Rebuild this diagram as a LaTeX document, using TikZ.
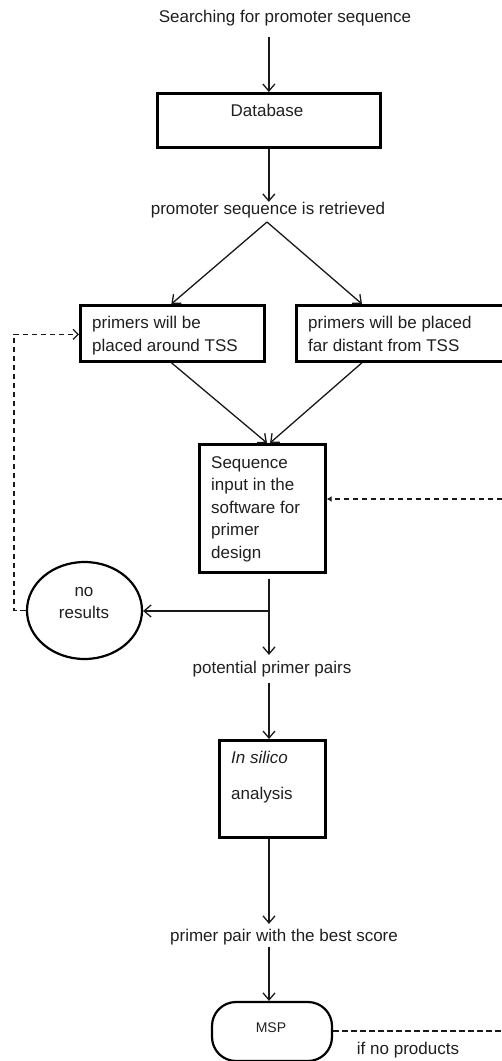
\documentclass[tikz,border=0pt]{standalone}
\usepackage{fontspec}
\setmainfont{Liberation Sans}
\usetikzlibrary{arrows.meta,shapes.geometric}
\begin{document}
\begin{tikzpicture}[x=1pt,y=-1pt,
  txt/.style={inner sep=0pt,text=black!88,font=\fontsize{17}{22.5}\selectfont},
  boxa/.style={draw=black,line width=2.7pt,anchor=north west,inner sep=0pt},
  conn/.style={line width=1.3pt,draw=black!90},
  arr/.style={conn,-{Straight Barb[length=7pt,width=12pt,line width=1.3pt]}},
  dsh/.style={conn,line width=1.5pt,dash pattern=on 5.5pt off 3.5pt}
]
\useasboundingbox (0,0) rectangle (502,1061);
\coordinate (col) at (269,0);
% title
\node[txt] (title) at (285,18) {Searching for promoter sequence};
% database
\node[boxa,minimum width=223pt,minimum height=54pt] (db) at (156,92) {};
\node[txt] (dbt) at (267,110) {Database};
\draw[arr,shorten <=11pt] (title.south -| db.north) -- (db.north);
% retrieved
\node[txt] (retr) at (268,210) {promoter sequence is retrieved};
\draw[arr] (db.south) -- (db.south |- retr.north);
\coordinate (apex) at (267,222);
% two boxes
\node[boxa,minimum width=184pt,minimum height=56pt] (lbox) at (79,304) {};
\node[txt,anchor=north west,align=left] (lt) at (92,316) {primers will be\\placed around TSS};
\node[boxa,minimum width=260pt,minimum height=56pt] (rbox) at (295,304) {};
\node[txt,anchor=north west,align=left] (rt) at (308,316) {primers will be placed\\far distant from TSS};
\draw[arr] (apex) -- ([xshift=-1pt]lbox.north);
\draw[arr] (apex) -- ([xshift=67pt]rbox.north west);
% sequence box
\node[boxa,minimum width=126pt,minimum height=128pt] (seq) at (198,443) {};
\node[txt,anchor=north west,align=left] (seqt) at (211,456) {Sequence\\input in the\\software for\\primer\\design};
\draw[arr] ([xshift=-1pt]lbox.south) -- ([xshift=69pt]seq.north west);
\draw[arr] ([xshift=67pt]rbox.south west) -- ([xshift=72pt]seq.north west);
% no results
\node[draw=black,line width=2.2pt,ellipse,minimum width=115pt,minimum height=97pt,inner sep=0pt] (nr) at (84.5,610.5) {};
\node[txt,align=center] (nrt) at (84,603) {no\\results};
% potential primer pairs
\node[txt] (pot) at (272,669) {potential primer pairs};
\coordinate (sb) at ([yshift=-5pt]col |- seq.south);
\draw[arr,shorten >=6pt] (sb) -- (col |- pot.north);
\coordinate (br) at (269,611);
\draw[arr] (br) -- (nr.east |- br);
% dashed back to left box
\coordinate (lx) at (14,0);
\draw[dsh,-{Straight Barb[length=5pt,width=10pt,line width=1.3pt]}] (nr.west) -- (nr.west -| lx) |- ([yshift=-1pt]lbox.west);
% in silico box
\node[boxa,minimum width=106pt,minimum height=97pt] (isb) at (218,739) {};
\node[txt,anchor=west] (ist1) at (231,757) {\textit{In silico}};
\node[txt,anchor=west] (ist2) at (231,795) {analysis};
\draw[arr,shorten <=6pt] (col |- pot.south) -- (col |- isb.north);
% best score
\node[txt] (best) at (284,937) {primer pair with the best score};
\draw[arr,shorten >=5pt] (col |- isb.south) -- (col |- best.north);
% MSP
\node[draw=black,line width=2.2pt,rounded corners=24pt,minimum width=120pt,minimum height=59pt,inner sep=0pt] (msp) at (272,1031.5) {};
\node[inner sep=0pt,text=black!88,font=\fontsize{14}{16}\selectfont] (mspt) at (271,1028) {MSP};
\draw[arr,shorten <=2pt] (col |- best.south) -- (col |- msp.north);
% dashed right loop (cropped)
\coordinate (re2) at (502,1031);
\draw[dsh] (msp.east |- re2) -- (re2);
\node[txt] (ifno) at (408,1050) {if no products};
\coordinate (re1) at (502,499);
\draw[dsh,-{Latex[length=5pt,width=6pt]}] (re1) -- (re1 -| seq.east);
\end{tikzpicture}
\end{document}
